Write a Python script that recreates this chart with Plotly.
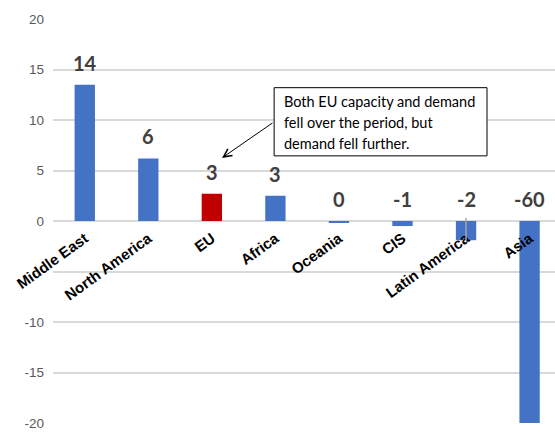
import math
import plotly.graph_objects as go

# Change by region (bars), with the EU highlighted
regions = ["Middle East", "North America", "EU", "Africa", "Oceania", "CIS", "Latin America", "Asia"]
change = [13.5, 6.2, 2.7, 2.5, -0.15, -0.5, -1.9, -60]
highlight = "EU"

y_ticks = [20, 15, 10, 5, 0, -5, -10, -15, -20]
y_tick_text = ["20", "15", "10", "5", "0", "", "-10", "-15", "-20"]

note_lines = ["Both EU capacity and demand", "fell over the period, but", "demand fell further."]

BLUE = "#4472C4"
RED = "#C00000"


def label_of(v):
    # round half away from zero, spreadsheet-style
    r = int(math.copysign(math.floor(abs(v) + 0.5), v))
    return str(r) if r != 0 else "0"


colors = [RED if r == highlight else BLUE for r in regions]

fig = go.Figure(
    go.Bar(
        x=regions,
        y=change,
        marker=dict(color=colors, line=dict(width=0)),
        width=0.32,
        hoverinfo="skip",
    )
)

# value labels: above the bar top for gains, above the zero line for losses
for r, v in zip(regions, change):
    fig.add_annotation(
        x=r, y=max(v, 0), xref="x", yref="y",
        text="<b>" + label_of(v) + "</b>",
        showarrow=False, yanchor="middle", yshift=22,
        font=dict(family="Lato", size=20, color="#404040"),
    )

# leader line from the Latin America label down to its bar
la = regions.index("Latin America")
fig.add_shape(
    type="line", xref="x", yref="y",
    x0=la, x1=la, y0=0.3, y1=change[la],
    line=dict(color="#A6A6A6", width=1.5), layer="above",
)

# callout box
fig.add_shape(
    type="rect", xref="x", yref="y",
    x0=2.98, x1=6.33, y0=6.45, y1=13.2,
    line=dict(color="black", width=1), fillcolor="white", layer="above",
)
for line, yy in zip(note_lines, [11.8, 9.8, 7.65]):
    fig.add_annotation(
        x=3.1, y=yy, xref="x", yref="y", text=line, showarrow=False,
        xanchor="left", yanchor="middle",
        font=dict(family="Lato", size=14.5, color="black"),
    )

# arrow from the callout to the EU label
fig.add_annotation(
    x=2.16, y=6.25, xref="x", yref="y", text="",
    showarrow=True, ax=52, ay=-36, arrowhead=5, arrowsize=1.6,
    arrowwidth=1, arrowcolor="black",
)

fig.update_layout(
    width=555, height=432,
    margin=dict(l=53, r=0, t=19, b=9),
    paper_bgcolor="white", plot_bgcolor="white",
    showlegend=False,
    xaxis=dict(
        range=[-0.5, 7.4], anchor="free", position=0.5,
        showgrid=False, showline=False, ticks="", zeroline=False,
        tickangle=-36, ticklabelstandoff=5,
        tickfont=dict(family="Arial, Liberation Sans", size=15, color="black", weight="bold"),
    ),
    yaxis=dict(
        range=[-20, 20], tickvals=y_ticks, ticktext=y_tick_text,
        showgrid=True, gridcolor="#D9D9D9", gridwidth=1.5,
        zeroline=True, zerolinecolor="#D9D9D9", zerolinewidth=1.5,
        showline=False, ticks="", ticklabelstandoff=8,
        tickfont=dict(family="Arial, Liberation Sans", size=13.5, color="#595959"),
    ),
)

fig.write_html("out.html")
